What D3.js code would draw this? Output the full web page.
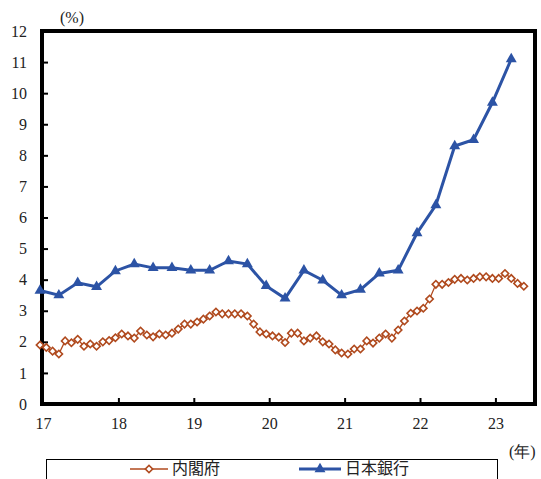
<!DOCTYPE html>
<html>
<head>
<meta charset="utf-8">
<script src="https://cdn.jsdelivr.net/npm/d3@7"></script>
<style>
  body { margin: 0; background: #fff; }
  .num { font-family: "Liberation Serif", "DejaVu Serif", serif; font-size: 16px; fill: #222; }
  .jp { font-family: "Noto Sans CJK JP", sans-serif; font-size: 16px; fill: #222; }
</style>
</head>
<body>
<div id="svg-container"></div>
<script>
////////////////////////////  Data  ////////////////////////////
// monthly, Jan 2017 - Jun 2023
const cabinet = [
  1.9, 1.82, 1.7, 1.61, 2.03, 1.97, 2.08, 1.86, 1.93, 1.86, 2.0, 2.04,
  2.13, 2.25, 2.19, 2.12, 2.35, 2.22, 2.16, 2.25, 2.22, 2.28, 2.41, 2.57,
  2.57, 2.64, 2.73, 2.83, 2.96, 2.9, 2.9, 2.9, 2.9, 2.83, 2.57, 2.32,
  2.25, 2.19, 2.15, 1.98, 2.28, 2.28, 2.03, 2.12, 2.19, 2.0, 1.93, 1.74,
  1.64, 1.61, 1.77, 1.77, 2.03, 1.96, 2.12, 2.25, 2.12, 2.38, 2.67, 2.92,
  2.99, 3.08, 3.38, 3.85, 3.85, 3.91, 4.01, 4.04, 3.99, 4.04, 4.09, 4.09,
  4.04, 4.04, 4.2, 4.04, 3.88, 3.79,
];
// quarterly, 2017Q1 - 2023Q2
const boj = [
  3.65, 3.5, 3.9, 3.77, 4.28, 4.5, 4.38, 4.38, 4.3, 4.3, 4.6, 4.5,
  3.8, 3.4, 4.3, 3.98, 3.5, 3.68, 4.2, 4.3, 5.5, 6.4, 8.3, 8.5, 9.7, 11.1,
];
const years = ["17", "18", "19", "20", "21", "22", "23"];
const yTicks = [0, 1, 2, 3, 4, 5, 6, 7, 8, 9, 10, 11, 12];
const seriesNames = ["内閣府", "日本銀行"];

const orange = "#B04A1E";
const blue = "#2C53A5";

////////////////////////////  Init  ////////////////////////////
const width = 541;
const height = 479;

const svg = d3
  .select("#svg-container")
  .append("svg")
  .attr("width", width)
  .attr("height", height);

// months since Jan 2017
const x = d3.scaleLinear().domain([0, 79]).range([40, 536.4]);
const y = d3.scaleLinear().domain([0, 12]).range([404, 31]);

// frame
svg
  .append("rect")
  .attr("x", 42)
  .attr("y", y(12))
  .attr("width", 535 - 42)
  .attr("height", y(0) - y(12))
  .attr("fill", "none")
  .attr("stroke", "#000")
  .attr("stroke-width", 4);

// y axis
const yAxis = svg
  .append("g")
  .attr("transform", "translate(42,0)")
  .call(d3.axisLeft(y).tickValues(yTicks).tickSize(-6).tickPadding(15));
yAxis.select(".domain").remove();
yAxis.selectAll("line").attr("stroke", "#000").attr("stroke-width", 2);
yAxis.selectAll("text").attr("class", "num").attr("fill", null);

// x axis, year ticks
const xAxis = svg
  .append("g")
  .attr("transform", `translate(3,${y(0)})`)
  .call(
    d3
      .axisBottom(x)
      .tickValues(years.map((d, i) => i * 12))
      .tickFormat((d, i) => years[i])
      .tickSize(-6)
      .tickPadding(14)
  );
xAxis.select(".domain").remove();
xAxis.selectAll("line").attr("stroke", "#000").attr("stroke-width", 2);
xAxis.selectAll("text").attr("class", "num").attr("fill", null);
// first tick sits on the frame
xAxis.selectAll(".tick").filter((d) => d === 0).select("line").remove();

// unit labels
svg.append("text").attr("class", "num").attr("x", 60).attr("y", 23).text("(%)");
svg.append("text").attr("class", "num").attr("x", 509).attr("y", 457).text("(年)");

////////////////////////////  Lines  ////////////////////////////
const line = d3
  .line()
  .x((d) => x(d.m))
  .y((d) => y(d.v));

const cabinetData = cabinet.map((v, i) => ({ m: i, v: v }));
const bojData = boj.map((v, i) => ({ m: i * 3, v: v }));

const diamond = d3.symbol().type(d3.symbolSquare).size(27);
const triangle = d3.symbol().type(d3.symbolTriangle).size(52);

svg
  .append("path")
  .datum(cabinetData)
  .attr("d", line)
  .attr("fill", "none")
  .attr("stroke", orange)
  .attr("stroke-width", 1.3);

svg
  .selectAll(".cab-pt")
  .data(cabinetData)
  .enter()
  .append("path")
  .attr("class", "cab-pt")
  .attr("d", diamond)
  .attr("transform", (d) => `translate(${x(d.m)},${y(d.v)}) rotate(45)`)
  .attr("fill", "#fff")
  .attr("stroke", orange)
  .attr("stroke-width", 1.6);

svg
  .append("path")
  .datum(bojData)
  .attr("d", line)
  .attr("fill", "none")
  .attr("stroke", blue)
  .attr("stroke-width", 3);

svg
  .selectAll(".boj-pt")
  .data(bojData)
  .enter()
  .append("path")
  .attr("class", "boj-pt")
  .attr("d", triangle)
  .attr("transform", (d) => `translate(${x(d.m)},${y(d.v)})`)
  .attr("fill", blue);

////////////////////////////  Legend  ////////////////////////////
svg
  .append("rect")
  .attr("x", 46.5)
  .attr("y", 459.5)
  .attr("width", 451)
  .attr("height", 40)
  .attr("fill", "#fff")
  .attr("stroke", "#000")
  .attr("stroke-width", 1);

const legendX = [130, 299];
const lg = svg
  .selectAll(".legend")
  .data(seriesNames)
  .enter()
  .append("g")
  .attr("class", "legend")
  .attr("transform", (d, i) => `translate(${legendX[i]},469)`);

lg.append("line")
  .attr("x1", 0)
  .attr("x2", (d, i) => (i === 0 ? 38 : 42))
  .attr("stroke", (d, i) => (i === 0 ? orange : blue))
  .attr("stroke-width", (d, i) => (i === 0 ? 1.3 : 3));

lg.append("path")
  .attr("d", (d, i) => (i === 0 ? diamond() : triangle()))
  .attr("transform", (d, i) => (i === 0 ? "translate(19,0) rotate(45)" : "translate(21,0)"))
  .attr("fill", (d, i) => (i === 0 ? "#fff" : blue))
  .attr("stroke", (d, i) => (i === 0 ? orange : "none"))
  .attr("stroke-width", 1.6);

lg.append("text")
  .attr("class", "jp")
  .attr("x", (d, i) => (i === 0 ? 42 : 46))
  .attr("y", 5)
  .text((d) => d);
</script>
</body>
</html>
